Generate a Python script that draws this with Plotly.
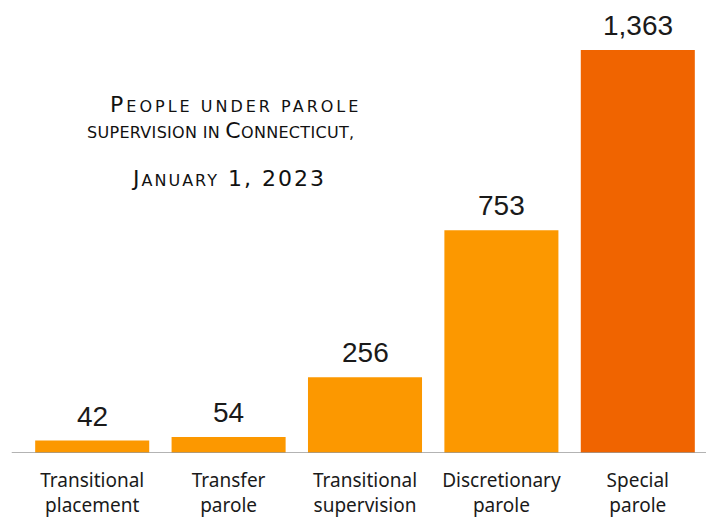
import plotly.graph_objects as go

categories = ["Transitional<br>placement", "Transfer<br>parole", "Transitional<br>supervision",
              "Discretionary<br>parole", "Special<br>parole"]
values = [42, 54, 256, 753, 1363]
colors = ["#FC9800", "#FC9800", "#FC9800", "#FC9800", "#F06400"]
value_labels = ["42", "54", "256", "753", "1,363"]

S = '<span style="font-size:16px">'
title_lines = [
    'P' + S + 'EOPLE UNDER PAROLE</span>',
    S + 'SUPERVISION IN </span>C' + S + 'ONNECTICUT,</span>',
    'J' + S + 'ANUARY</span> 1, 2023',
]
title_spacing = ["3px", "0.3px", "2px"]
title_x = [0.31, 0.288, 0.3]
title_y = [0.786, 0.727, 0.62]

fig = go.Figure()
fig.add_trace(go.Bar(x=categories, y=values, marker=dict(color=colors, line=dict(width=0)),
                     hoverinfo="skip"))

for c, v, t in zip(categories, values, value_labels):
    fig.add_annotation(x=c, y=v, text=t, showarrow=False, yanchor="bottom", yshift=7,
                       font=dict(family="Liberation Sans, Arial", size=28, color="#1a1a1a"))

for line, sp, xx, yy in zip(title_lines, title_spacing, title_x, title_y):
    fig.add_annotation(xref="paper", yref="paper", x=xx, y=yy,
                       text='<span style="letter-spacing:' + sp + '">' + line + '</span>',
                       showarrow=False, xanchor="center", yanchor="middle",
                       font=dict(family="DejaVu Sans", size=22, color="#111111"))

fig.add_shape(type="line", xref="paper", yref="y", x0=-0.018, x1=1.0, y0=0, y1=0,
              line=dict(color="#9a9a9a", width=1.5))

fig.update_layout(
    width=706, height=517,
    margin=dict(l=24, r=0, t=10, b=64),
    plot_bgcolor="white", paper_bgcolor="white",
    bargap=0.164,
    showlegend=False,
    xaxis=dict(showgrid=False, showline=False, zeroline=False, ticks="",
               ticklabelstandoff=14,
               tickfont=dict(family="Noto Sans", size=19, color="#1a1a1a")),
    yaxis=dict(range=[0, 1498], visible=False, showgrid=False, zeroline=False),
)

fig.write_html("out.html")
